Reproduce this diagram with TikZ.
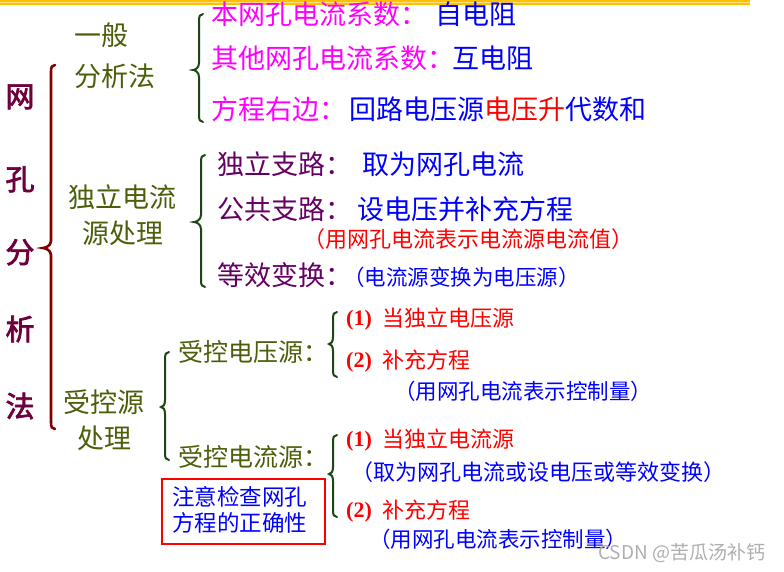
\documentclass[tikz,border=0pt]{standalone}
\usepackage{fontspec}
\newfontfamily\cjk{Noto Sans CJK SC}
\newfontfamily\cjkbold[FakeBold=2.5]{Noto Sans CJK SC}
\newfontfamily\tnr{Liberation Serif}
\definecolor{maroontxt}{RGB}{110,0,60}
\definecolor{maroonbr}{RGB}{128,0,0}
\definecolor{olivetxt}{RGB}{75,95,10}
\definecolor{greenbr}{RGB}{30,70,20}
\definecolor{purpletxt}{RGB}{100,0,100}
\definecolor{magtxt}{RGB}{255,0,255}
\definecolor{bluetxt}{RGB}{0,0,255}
\definecolor{redtxt}{RGB}{255,0,0}
\definecolor{stripe}{RGB}{255,192,0}
\definecolor{stripelight}{RGB}{255,225,130}
\definecolor{wmark}{RGB}{175,175,175}
% #1 colour, #2 spine x, #3 top y, #4 tip y, #5 bottom y, #6 tip depth, #7 width
\newcommand\MyBrace[7]{%
  \draw[#1, line width=#7, line cap=round]
    (#2+4,#3) .. controls (#2+1,#3) and (#2,#3+2) .. (#2,#3+7)
    -- (#2,#4-7) .. controls (#2,#4-2) and (#2-#6+2,#4) .. (#2-#6,#4)
    .. controls (#2-#6+2,#4) and (#2,#4+2) .. (#2,#4+7)
    -- (#2,#5-7) .. controls (#2,#5-2) and (#2+1,#5) .. (#2+4,#5);}
\begin{document}
\begin{tikzpicture}[x=1pt,y=-1pt,
  txt/.style={inner sep=0pt, anchor=base west, font=\cjk},
  bigc/.style={inner sep=0pt, anchor=base, font=\cjkbold\fontsize{29}{29}\selectfont, text=maroontxt},
  lvlone/.style={txt, text=olivetxt, font=\cjk\fontsize{27}{27}\selectfont},
  main/.style={txt, font=\cjk\fontsize{27}{27}\selectfont},
  sub/.style={txt, font=\cjk\fontsize{22}{22}\selectfont},
  numlbl/.style={inner sep=0pt, anchor=base west, font=\tnr\bfseries\fontsize{22}{22}\selectfont, text=redtxt}]
\useasboundingbox (0,0) rectangle (784,571);
\fill[white] (0,0) rectangle (784,571);
% top stripe
\fill[stripe] (0,0) rectangle (750,5);
\fill[stripelight] (0,2) rectangle (750,3);
% vertical title
\node[bigc] (c1) at (20,107) {网};
\node[bigc] (c2) at (20,190) {孔};
\node[bigc] (c3) at (20,263) {分};
\node[bigc] (c4) at (20,340) {析};
\node[bigc] (c5) at (20,417) {法};
% braces
\MyBrace{maroonbr}{51}{65}{248}{429}{8}{2.6pt}
\MyBrace{greenbr}{199}{14}{70}{122}{6}{2pt}
\MyBrace{greenbr}{201}{155}{222}{287}{7}{2pt}
\MyBrace{greenbr}{165}{352}{407}{460}{4}{2pt}
\MyBrace{greenbr}{333}{312}{344}{377}{4}{2pt}
\MyBrace{greenbr}{333}{435}{474}{517}{4}{2pt}
% level one
\node[lvlone] (g1) at (74,45) {一般};
\node[lvlone] (g2) at (74,86) {分析法};
\node[lvlone] (d1) at (68,207) {独立电流};
\node[lvlone] (d2) at (82,243) {源处理};
\node[lvlone] (s1) at (63,412) {受控源};
\node[lvlone] (s2) at (77,448) {处理};
% general method
\node[main, text=magtxt] (a1) at (211,24) {本网孔电流系数：};
\node[main, text=bluetxt] (a1b) at (435,24) {自电阻};
\node[main, text=magtxt] (a2) at (211,68) {其他网孔电流系数：};
\node[main, text=bluetxt] (a2b) at (452,68) {互电阻};
\node[main, text=magtxt] (a3) at (211,119) {方程右边：};
\node[main, text=bluetxt] (a3b) at (349,119) {回路电压源{\color{redtxt}电压升}代数和};
% independent current source
\node[main, text=purpletxt] (b1) at (217,174) {独立支路：};
\node[main, text=bluetxt] (b1b) at (362,174) {取为网孔电流};
\node[main, text=purpletxt] (b2) at (217,219) {公共支路：};
\node[main, text=bluetxt] (b2b) at (357,219) {设电压并补充方程};
\node[sub, text=redtxt] (b2c) at (303,247) {（用网孔电流表示电流源电流值）};
\node[main, text=purpletxt] (b3) at (217,285) {等效变换：};
\node[sub, text=bluetxt, font=\cjk\fontsize{21.5}{21.5}\selectfont] (b3b) at (343,285) {（电流源变换为电压源）};
% controlled sources
\node[txt, text=olivetxt, font=\cjk\fontsize{25}{25}\selectfont] (v0) at (178,361) {受控电压源：};
\node[numlbl] (v1n) at (346,325) {(1)};
\node[sub, text=redtxt] (v1) at (382,326) {当独立电压源};
\node[numlbl] (v2n) at (346,367) {(2)};
\node[sub, text=redtxt] (v2) at (382,368) {补充方程};
\node[sub, text=bluetxt, font=\cjk\fontsize{21.5}{21.5}\selectfont] (v2b) at (394,399) {（用网孔电流表示控制量）};
\node[txt, text=olivetxt, font=\cjk\fontsize{25}{25}\selectfont] (i0) at (178,466) {受控电流源：};
\node[numlbl] (i1n) at (346,446) {(1)};
\node[sub, text=redtxt] (i1) at (382,447) {当独立电流源};
\node[sub, text=bluetxt] (i1b) at (351,480) {（取为网孔电流或设电压或等效变换）};
\node[numlbl] (i2n) at (346,517) {(2)};
\node[sub, text=redtxt] (i2) at (382,518) {补充方程};
\node[sub, text=bluetxt, font=\cjk\fontsize{21.5}{21.5}\selectfont] (i2b) at (369,547) {（用网孔电流表示控制量）};
% note box
\draw[redtxt, line width=2pt] (162,479) rectangle (325,544);
\node[txt, text=bluetxt, font=\cjk\fontsize{22.5}{22.5}\selectfont] (n1) at (172,505) {注意检查网孔};
\node[txt, text=bluetxt, font=\cjk\fontsize{22.5}{22.5}\selectfont] (n2) at (172,531) {方程的正确性};
% watermark
\node[txt, text=wmark, font=\cjk\fontsize{19}{19}\selectfont] (wm) at (598,559) {CSDN @苦瓜汤补钙};
\end{tikzpicture}
\end{document}
